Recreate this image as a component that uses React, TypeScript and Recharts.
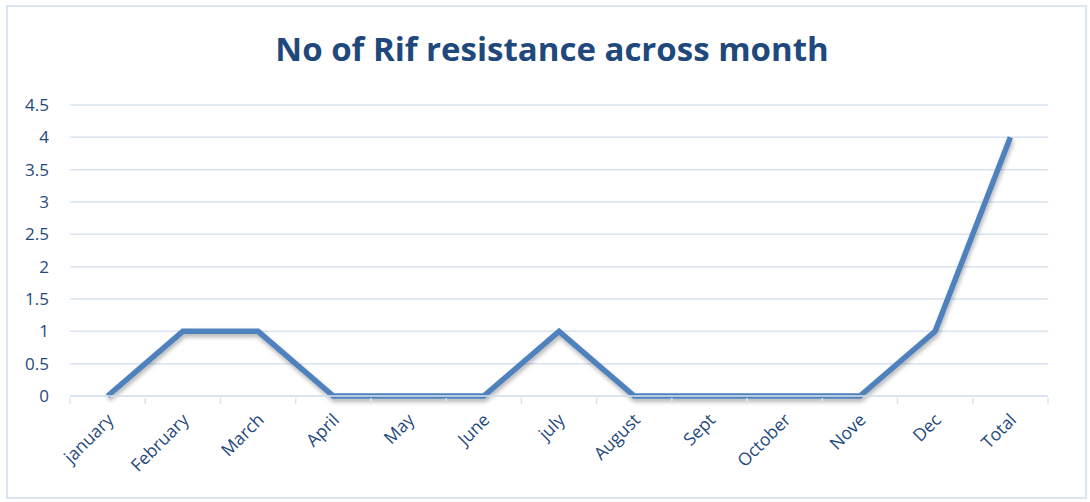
import { LineChart, Line, XAxis, YAxis, CartesianGrid } from "recharts";

const months = [
  "january", "February", "March", "April", "May", "June", "july",
  "August", "Sept", "October", "Nove", "Dec", "Total",
];
const rifResistance = [0, 1, 1, 0, 0, 0, 1, 0, 0, 0, 0, 1, 4];
const yTicks = [0, 0.5, 1, 1.5, 2, 2.5, 3, 3.5, 4, 4.5];

const data = months.map((month, i) => ({ month, value: rifResistance[i] }));

const TEXT = "#1F497D";
const GRID = "#D9E3F1";
const FONT = "'Open Sans', 'Liberation Sans', sans-serif";
const STEP = (1048 - 70) / months.length;

function MonthTick(props: any) {
  const { x, y, payload, index } = props;
  const last = index === months.length - 1;
  return (
    <g>
      <line x1={x - STEP / 2} y1={y} x2={x - STEP / 2} y2={y + 6} stroke={GRID} strokeWidth={1.5} />
      {last && (
        <line x1={x + STEP / 2} y1={y} x2={x + STEP / 2} y2={y + 6} stroke={GRID} strokeWidth={1.5} />
      )}
      <text
        x={x + 7}
        y={y + 23}
        transform={`rotate(-45 ${x + 7} ${y + 23})`}
        textAnchor="end"
        fill={TEXT}
        fontSize={17.5}
        fontFamily={FONT}
      >
        {payload.value}
      </text>
    </g>
  );
}

export default function App() {
  return (
    <div style={{ position: "fixed", left: 0, top: 0, width: 1090, height: 502, background: "#fff" }}>
      <div
        style={{
          position: "absolute",
          left: 6,
          top: 5,
          width: 1077,
          height: 490,
          border: "2px solid #DCE6F2",
        }}
      />
      <div
        style={{
          position: "absolute",
          top: 26,
          left: 14,
          width: 1076,
          textAlign: "center",
          fontFamily: FONT,
          fontWeight: 700,
          fontSize: 33,
          color: TEXT,
        }}
      >
        No of Rif resistance across month
      </div>
      <div style={{ position: "absolute", left: 0, top: 0 }}>
        <LineChart width={1090} height={502} data={data} margin={{ top: 105, right: 42, bottom: 0, left: 0 }}>
          <defs>
            <filter id="lineShadow" x="-10%" y="-10%" width="120%" height="130%">
              <feDropShadow dx="1" dy="3" stdDeviation="2" floodColor="#000" floodOpacity="0.3" />
            </filter>
          </defs>
          <CartesianGrid vertical={false} stroke={GRID} strokeWidth={1.5} />
          <XAxis
            dataKey="month"
            axisLine={{ stroke: GRID, strokeWidth: 1.5 }}
            tickLine={false}
            interval={0}
            tickSize={0}
            tick={<MonthTick />}
            height={106}
            padding={{ left: STEP / 2, right: STEP / 2 }}
          />
          <YAxis
            domain={[0, 4.5]}
            ticks={yTicks}
            interval={0}
            axisLine={false}
            tickLine={false}
            tickSize={0}
            tickMargin={21}
            width={70}
            tick={{ fill: TEXT, fontSize: 17, fontFamily: FONT }}
          />
          <Line
            type="linear"
            dataKey="value"
            stroke="#4F81BD"
            strokeWidth={5.5}
            dot={false}
            activeDot={false}
            isAnimationActive={false}
            filter="url(#lineShadow)"
          />
        </LineChart>
      </div>
    </div>
  );
}
